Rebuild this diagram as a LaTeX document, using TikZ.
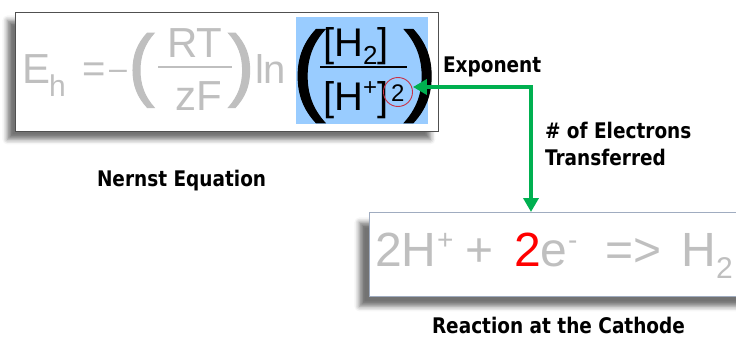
\documentclass[tikz,border=0pt]{standalone}
\usepackage{fontspec}
\setmainfont{Liberation Sans}
\newfontfamily\labfont[FakeStretch=0.86]{DejaVu Sans Bold}
\newfontfamily\eqmed[FakeBold=1.2]{Liberation Sans}
\usetikzlibrary{arrows.meta,shadows.blur}
\definecolor{eqgray}{RGB}{191,191,191}
\definecolor{hlblue}{RGB}{153,204,255}
\definecolor{garrowc}{RGB}{0,176,80}
\definecolor{circred}{RGB}{200,50,70}
\definecolor{topborder}{RGB}{80,80,80}
\definecolor{botborder}{RGB}{160,172,192}
\newcommand\fs[1]{\fontsize{#1}{#1}\selectfont}
\begin{document}
\begin{tikzpicture}[x=1pt,y=-1pt,
  eqt/.style={anchor=base west,inner sep=0,outer sep=0},
  eqc/.style={anchor=base,inner sep=0,outer sep=0},
  lab/.style={anchor=base west,inner sep=0,outer sep=0,font=\labfont\fontsize{21.5}{27}\selectfont,align=left},
  eqbox/.style={draw=topborder,line width=0.8pt,fill=white,inner sep=0,
    blur shadow={shadow xshift=-8pt,shadow yshift=-8pt,shadow blur radius=5pt,shadow opacity=55}},
  botbox/.style={draw=botborder,line width=0.8pt,fill=white,inner sep=0,
    blur shadow={shadow xshift=-10pt,shadow yshift=-10pt,shadow blur radius=5pt,shadow opacity=55}},
  garrow/.style={draw=garrowc,line width=4pt,line join=miter,
    {Triangle[length=14pt,width=15pt]}-{Triangle[length=14pt,width=15pt]}}
]
\useasboundingbox (0,0) rectangle (736,337);
\clip (0,0) rectangle (736,337);
% top box
\node[eqbox,anchor=north west,minimum width=423pt,minimum height=119pt] (topbox) at (15,12) {};
\node[fill=hlblue,anchor=north west,minimum width=132pt,minimum height=107pt,inner sep=0] (hl) at (296,17) {};
% gray part of equation
\begin{scope}[text=eqgray]
\node[eqt] (E) at (23,83) {\fs{42}E};
\node[eqt] (h) at (49,96) {\fs{30}h};
\node[eqt] (eq) at (82,82) {\fs{40}=};
\node[eqt] (minus) at (109,80) {\fs{32}–};
\node[eqt] (lp1) at (128,91) {\eqmed\fs{80}(};
\node[eqc] (RT) at (195,58) {\fs{42}RT};
\node[eqc] (zF) at (199,110) {\fs{42}zF};
\node[eqt] (rp1) at (228,91) {\eqmed\fs{80})};
\node[eqt] (ln) at (255,84) {\fs{40}ln};
\end{scope}
\coordinate (bar1a) at (158,67);
\coordinate (bar1b) at (232,67);
\draw[eqgray,line width=2.5pt] (bar1a) -- (bar1b);
% black part
\node[eqt] (lp2) at (292,102) {\eqmed\fs{100}(};
\node[eqt] (num) at (323,57) {\fs{40}[H\raisebox{-8pt}{\fs{26}2}]};
\coordinate (bar2a) at (320,67);
\coordinate (bar2b) at (407,67);
\draw[black,line width=2.5pt] (bar2a) -- (bar2b);
\node[eqt] (den) at (323,110) {\fs{40}[H\raisebox{14pt}{\fs{24}+}]};
\node[eqt] (expo) at (391,101) {\fs{24}2};
\node[circle,draw=circred,line width=0.9pt,minimum size=29pt,inner sep=0] (circ) at (398,92) {};
\node[eqt] (rp2) at (404,102) {\eqmed\fs{100})};
% bottom box
\node[botbox,anchor=north west,minimum width=390pt,minimum height=84pt] (bot) at (369,212) {};
\begin{scope}[text=eqgray]
\node[eqt] (r1) at (375,266) {\fs{48}2H};
\node[eqt] (r1s) at (437,249) {\fs{28}+};
\node[eqt] (r2) at (465,266) {\fs{48}+};
\node[eqt] (r3) at (514,266) {\fs{48}{\color{red}2}e};
\node[eqt] (r3s) at (568,249) {\fs{28}-};
\node[eqt] (r4) at (605,266) {\fs{48}=>};
\node[eqt] (r5) at (681,266) {\fs{48}H};
\node[eqt] (r5s) at (716,278) {\fs{30}2};
\end{scope}
% labels
\node[lab] (exponent) at (443,72) {Exponent};
\node[lab] (electrons) at (545,165) {\# of Electrons\\Transferred};
\node[lab] (nernst) at (97,186) {Nernst Equation};
\node[lab] (cathode) at (432,333) {Reaction at the Cathode};
% green connector
\coordinate (corner) at (531,87);
\draw[garrow] (circ.east |- corner) -- (corner) -- (corner |- bot.north);
\end{tikzpicture}
\end{document}
